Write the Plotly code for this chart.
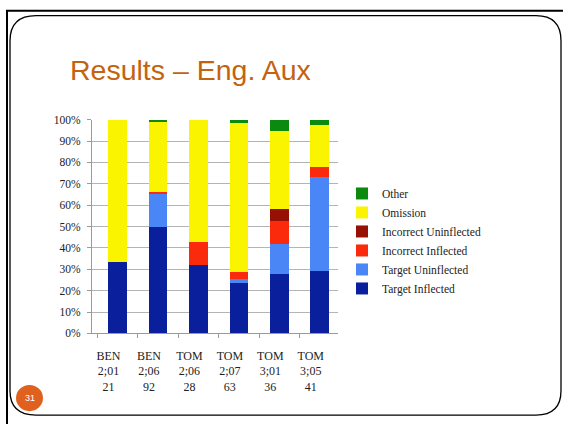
import plotly.graph_objects as go

W, H = 563, 424

categories = ["BEN<br>2;01<br>21", "BEN<br>2;06<br>92", "TOM<br>2;06<br>28",
              "TOM<br>2;07<br>63", "TOM<br>3;01<br>36", "TOM<br>3;05<br>41"]

target_inflected = [33.3, 50.0, 32.1, 23.8, 27.8, 29.3]
target_uninflected = [0.0, 15.2, 0.0, 1.6, 13.9, 43.9]
incorrect_inflected = [0.0, 1.1, 10.7, 3.2, 11.1, 4.9]
incorrect_uninflected = [0.0, 0.0, 0.0, 0.0, 5.6, 0.0]
omission = [66.7, 32.6, 57.2, 69.8, 36.1, 19.5]
other = [0.0, 1.1, 0.0, 1.6, 5.5, 2.4]

series = [
    ("Target Inflected", target_inflected, "#0a1f9c"),
    ("Target Uninflected", target_uninflected, "#4a86f5"),
    ("Incorrect Inflected", incorrect_inflected, "#fb2a0c"),
    ("Incorrect Uninflected", incorrect_uninflected, "#971004"),
    ("Omission", omission, "#fbf400"),
    ("Other", other, "#0b8a0f"),
]

y_ticks = list(range(0, 101, 10))
y_ticktext = [f"{v}%" for v in y_ticks]

fig = go.Figure()
for name, vals, col in series:
    fig.add_trace(go.Bar(name=name, x=categories, y=vals, marker_color=col,
                         marker_line_width=0, width=0.46))

def px_x(p):
    return p / W

def px_y(p):
    return 1 - p / H

serif = "Liberation Serif, DejaVu Serif, serif"

fig.update_layout(
    width=W, height=H,
    margin=dict(l=0, r=0, t=0, b=0),
    paper_bgcolor="white", plot_bgcolor="white",
    barmode="stack",
    showlegend=True,
    legend=dict(traceorder="reversed", x=px_x(342), y=px_y(178), xanchor="left", yanchor="top",
                font=dict(family=serif, size=11.5, color="#222"), bgcolor="rgba(0,0,0,0)",
                itemwidth=30, tracegroupgap=0),
    title=dict(text="Results – Eng. Aux", x=px_x(70), xanchor="left", y=px_y(70), yanchor="middle",
               font=dict(family="Liberation Sans, Arial, sans-serif", size=28.5, color="#c4630f")),
    xaxis=dict(domain=[px_x(92), px_x(338)], range=[-0.63, 5.45], type="category",
               showgrid=False, showline=True, linecolor="#9a9a9a", linewidth=1,
               ticks="outside", ticklen=4, tickcolor="#9a9a9a", tickson="boundaries",
               tickfont=dict(family=serif, size=12, color="#222"), ticklabelshift=-9,
               ticklabelstandoff=11),
    yaxis=dict(domain=[px_y(337), px_y(117)], range=[0, 100], tickvals=y_ticks, ticktext=y_ticktext,
               showgrid=True, gridcolor="#b4b4b4", gridwidth=1, showline=True, linecolor="#9a9a9a",
               ticks="outside", ticklen=4, tickcolor="#9a9a9a", zeroline=False,
               tickfont=dict(family=serif, size=11.5, color="#222"), ticklabelstandoff=4),
    shapes=[
        # outer slide border
        dict(type="rect", xref="paper", yref="paper", x0=px_x(7), x1=px_x(575), y0=px_y(440), y1=px_y(5),
             line=dict(color="black", width=2), layer="above"),
        # rounded inner frame
        dict(type="path", xref="paper", yref="paper",
             path=(f"M {px_x(10)},{px_y(36)} Q {px_x(10)},{px_y(10)} {px_x(36)},{px_y(10)} "
                   f"L {px_x(536)},{px_y(10)} Q {px_x(561)},{px_y(10)} {px_x(561)},{px_y(36)} "
                   f"L {px_x(561)},{px_y(396)} Q {px_x(561)},{px_y(421)} {px_x(536)},{px_y(421)} "
                   f"L {px_x(36)},{px_y(421)} Q {px_x(10)},{px_y(421)} {px_x(10)},{px_y(396)} Z"),
             line=dict(color="black", width=1.3), layer="above"),
        # slide number circle
        dict(type="circle", xref="paper", yref="paper", x0=px_x(16), x1=px_x(43), y0=px_y(417), y1=px_y(390),
             fillcolor="#e0601f", line=dict(width=0), layer="above"),
    ],
    annotations=[
        dict(text="31", xref="paper", yref="paper", x=px_x(29.5), y=px_y(403.5), showarrow=False,
             xanchor="center", yanchor="middle",
             font=dict(family="Liberation Sans, Arial, sans-serif", size=9, color="white")),
    ],
)

fig.write_html("out.html")
